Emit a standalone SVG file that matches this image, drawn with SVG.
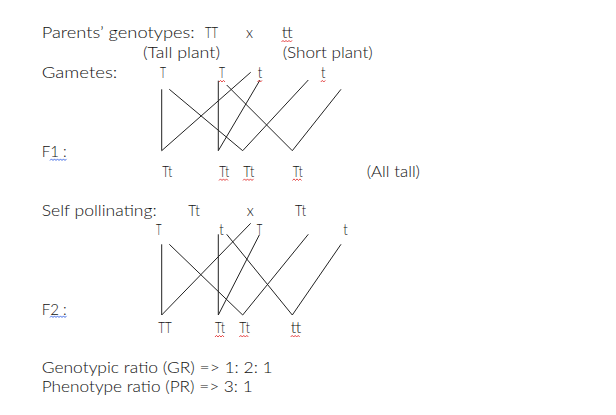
<svg xmlns="http://www.w3.org/2000/svg" width="616" height="415" viewBox="0 0 616 415">
<style>
text{font-family:Lato,"Liberation Sans",Arial,sans-serif;font-weight:300;font-size:15.5px;fill:#111}
.c line{stroke:#222;stroke-width:1}
.r{fill:none;stroke:#e02020;stroke-width:0.8}
.b{fill:none;stroke:#2050e0;stroke-width:0.8}
</style>
<rect width="616" height="415" fill="#fff"/>
<g id="header">
<text x="41.7" y="38.3" textLength="153" lengthAdjust="spacingAndGlyphs">Parents’ genotypes:</text>
<text x="205" y="38.3" textLength="13" lengthAdjust="spacingAndGlyphs">TT</text>
<text x="246" y="38.3" textLength="7" lengthAdjust="spacingAndGlyphs">x</text>
<text x="281.7" y="38.3" textLength="11" lengthAdjust="spacingAndGlyphs">tt</text>
<text x="143" y="58.3" textLength="77" lengthAdjust="spacingAndGlyphs">(Tall plant)</text>
<text x="282.7" y="58.3" textLength="90" lengthAdjust="spacingAndGlyphs">(Short plant)</text>
<text x="41.7" y="78.3" textLength="75.6" lengthAdjust="spacingAndGlyphs">Gametes:</text>
</g>
<g id="gametes1">
<text x="160" y="78.3" textLength="6" lengthAdjust="spacingAndGlyphs">T</text>
<text x="219" y="78.3" textLength="6" lengthAdjust="spacingAndGlyphs">T</text>
<text x="257.7" y="78.3" textLength="4.5" lengthAdjust="spacingAndGlyphs">t</text>
<text x="321" y="78.3" textLength="4.5" lengthAdjust="spacingAndGlyphs">t</text>
</g>
<g id="f1">
<text x="41.7" y="157.3" textLength="25" lengthAdjust="spacingAndGlyphs">F1 :</text>
<text x="162.3" y="176.7" textLength="10" lengthAdjust="spacingAndGlyphs">Tt</text>
<text x="219.3" y="176.7" textLength="10" lengthAdjust="spacingAndGlyphs">Tt</text>
<text x="243.3" y="176.7" textLength="11" lengthAdjust="spacingAndGlyphs">Tt</text>
<text x="292.7" y="176.7" textLength="10" lengthAdjust="spacingAndGlyphs">Tt</text>
<text x="366.7" y="176.7" textLength="53.3" lengthAdjust="spacingAndGlyphs">(All tall)</text>
</g>
<g id="self">
<text x="41.7" y="216" textLength="115" lengthAdjust="spacingAndGlyphs">Self pollinating:</text>
<text x="188.3" y="216" textLength="11.7" lengthAdjust="spacingAndGlyphs">Tt</text>
<text x="246.7" y="216" textLength="7" lengthAdjust="spacingAndGlyphs">x</text>
<text x="295" y="216" textLength="11" lengthAdjust="spacingAndGlyphs">Tt</text>
</g>
<g id="gametes2">
<text x="156" y="235" textLength="5.5" lengthAdjust="spacingAndGlyphs">T</text>
<text x="219.3" y="235" textLength="4.5" lengthAdjust="spacingAndGlyphs">t</text>
<text x="256.7" y="235" textLength="5.5" lengthAdjust="spacingAndGlyphs">T</text>
<text x="343.3" y="235" textLength="4.5" lengthAdjust="spacingAndGlyphs">t</text>
</g>
<g id="f2">
<text x="41.7" y="315" textLength="25" lengthAdjust="spacingAndGlyphs">F2 :</text>
<text x="158.3" y="333.3" textLength="13.3" lengthAdjust="spacingAndGlyphs">TT</text>
<text x="215" y="333.3" textLength="10" lengthAdjust="spacingAndGlyphs">Tt</text>
<text x="239.3" y="333.3" textLength="10.5" lengthAdjust="spacingAndGlyphs">Tt</text>
<text x="290.7" y="333.3" textLength="10.5" lengthAdjust="spacingAndGlyphs">tt</text>
</g>
<g id="ratios">
<text x="41.7" y="373.3" textLength="231" lengthAdjust="spacingAndGlyphs">Genotypic ratio (GR) =&gt; 1: 2: 1</text>
<text x="41.7" y="392" textLength="211" lengthAdjust="spacingAndGlyphs">Phenotype ratio (PR) =&gt; 3: 1</text>
</g>
<g id="connectors" class="c">
<line x1="161.7" y1="89.3" x2="161.7" y2="150.7"/>
<line x1="161.7" y1="150.7" x2="250.7" y2="72.3"/>
<line x1="169.3" y1="89.3" x2="242.7" y2="150.7"/>
<line x1="218.3" y1="80.7" x2="218.3" y2="150.7"/>
<line x1="218.3" y1="150.7" x2="260" y2="80"/>
<line x1="226.7" y1="85" x2="292.3" y2="150.7"/>
<line x1="242.7" y1="150.7" x2="308.3" y2="80"/>
<line x1="292.3" y1="150.7" x2="341" y2="89.3"/>
<line x1="161.7" y1="244.3" x2="161.7" y2="315"/>
<line x1="161.7" y1="315" x2="250.7" y2="223.3"/>
<line x1="169.3" y1="244.3" x2="242.7" y2="315"/>
<line x1="218.3" y1="234.3" x2="218.3" y2="315"/>
<line x1="218.3" y1="315" x2="259.3" y2="235"/>
<line x1="226.7" y1="234.3" x2="292.3" y2="315"/>
<line x1="242.7" y1="315" x2="308.3" y2="234.3"/>
<line x1="292.3" y1="315" x2="341" y2="244.3"/>
</g>
<g id="spellcheck">
<path class="r" d="M281.5 42l1.5-1.6 1.5 1.6 1.5-1.6 1.5 1.6 1.5-1.6 1.5 1.6 1.5-1.6"/>
<path class="r" d="M219 82l1.5-1.6 1.5 1.6 1.5-1.6 1.5 1.6"/>
<path class="r" d="M257.5 82l1.5-1.6 1.5 1.6 1.5-1.6"/>
<path class="r" d="M320.8 82l1.5-1.6 1.5 1.6 1.5-1.6"/>
<path class="r" d="M219 180.5l1.5-1.6 1.5 1.6 1.5-1.6 1.5 1.6 1.5-1.6 1.5 1.6"/>
<path class="r" d="M243 180.5l1.5-1.6 1.5 1.6 1.5-1.6 1.5 1.6 1.5-1.6 1.5 1.6 1.5-1.6"/>
<path class="r" d="M292.5 180.5l1.5-1.6 1.5 1.6 1.5-1.6 1.5 1.6 1.5-1.6 1.5 1.6"/>
<path class="b" d="M50 160.5l1.5-1.6 1.5 1.6 1.5-1.6 1.5 1.6 1.5-1.6 1.5 1.6 1.5-1.6 1.5 1.6 1.5-1.6 1.5 1.6 1.5-1.6"/>
<path class="b" d="M50 317.5l1.5-1.6 1.5 1.6 1.5-1.6 1.5 1.6 1.5-1.6 1.5 1.6 1.5-1.6 1.5 1.6 1.5-1.6 1.5 1.6 1.5-1.6"/>
<path class="r" d="M215 337l1.5-1.6 1.5 1.6 1.5-1.6 1.5 1.6 1.5-1.6 1.5 1.6"/>
<path class="r" d="M239.3 337l1.5-1.6 1.5 1.6 1.5-1.6 1.5 1.6 1.5-1.6 1.5 1.6"/>
<path class="r" d="M290.7 337l1.5-1.6 1.5 1.6 1.5-1.6 1.5 1.6 1.5-1.6 1.5 1.6"/>
</g>
</svg>
